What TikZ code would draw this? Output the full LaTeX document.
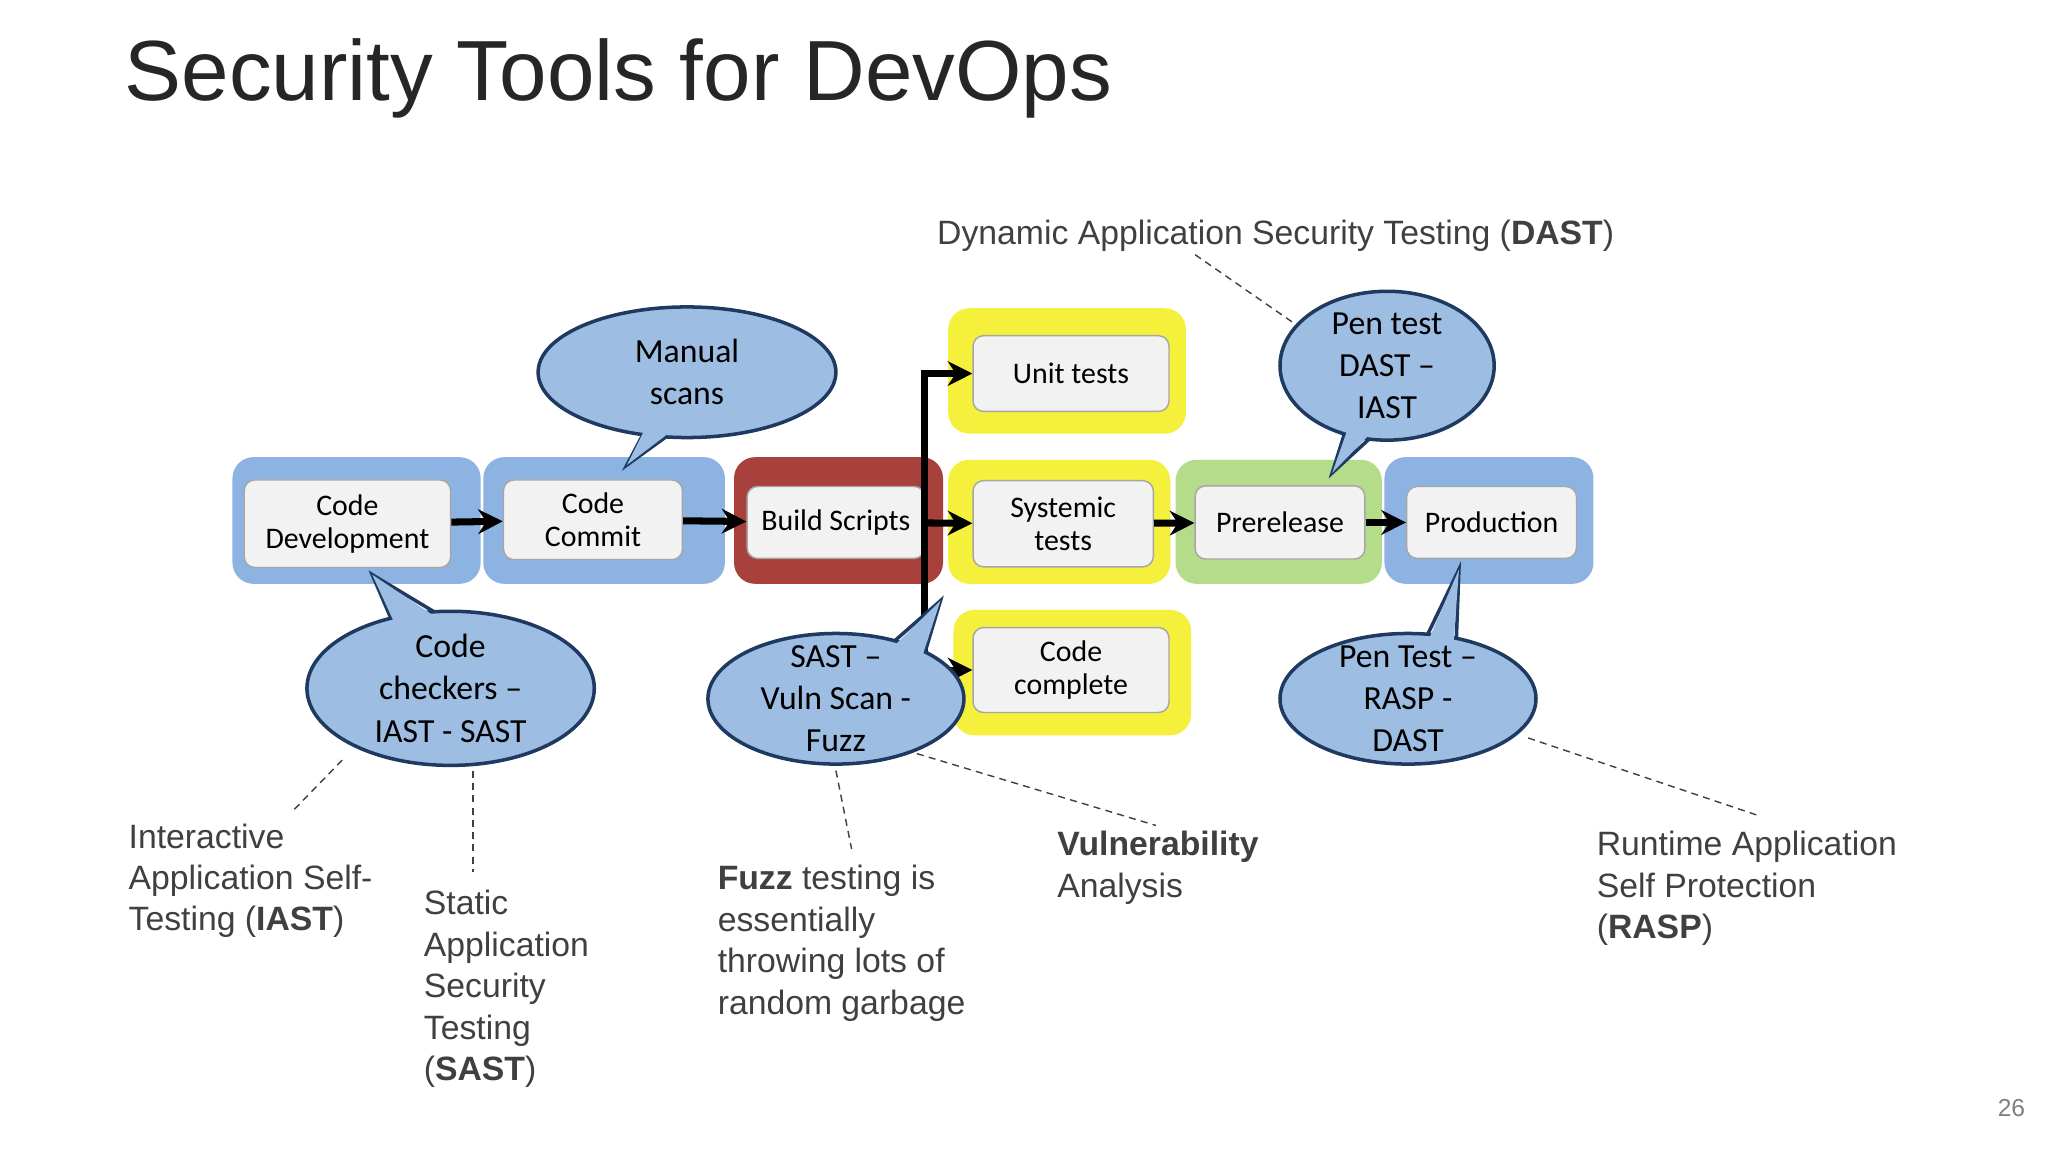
\documentclass[tikz,border=0pt]{standalone}
\usepackage{fontspec}
\setmainfont{Liberation Sans}
\newfontfamily\boxfont{Carlito}
\usetikzlibrary{shapes.geometric,calc,arrows.meta}
\definecolor{txt}{HTML}{404040}
\definecolor{stblue}{HTML}{8DB3E2}
\definecolor{stred}{HTML}{A8403C}
\definecolor{styellow}{HTML}{F4F03C}
\definecolor{stgreen}{HTML}{B4DC8A}
\definecolor{bubfill}{HTML}{9DBDE2}
\definecolor{bubline}{HTML}{1F3A60}
\tikzset{
  stage/.style={rounded corners=6pt, fill=#1},
  stepbox/.style={draw=gray!70, fill=white!95!black, rounded corners=3pt, font=\boxfont\fontsize{8.5}{9.5}\selectfont, align=center, inner sep=0pt},
  flow/.style={-{Stealth[length=7pt,width=7pt]}, line width=2pt},
  bub/.style={ellipse, draw=bubline, line width=1pt, fill=bubfill, inner sep=0pt},
  bubtxt/.style={font=\boxfont\fontsize{9.6}{12}\selectfont, align=center},
  note/.style={font=\fontsize{9.6}{11.8}\selectfont, text=txt, align=left, anchor=north west, inner sep=0pt},
  lead/.style={densely dashed, dash pattern=on 2pt off 1.5pt, thin, txt}
}
\begin{document}
\begin{tikzpicture}[x=0.01306cm, y=-0.01306cm]
\useasboundingbox (0,0) rectangle (1568,882);
\fill[white] (0,0) rectangle (1568,882);
\node[anchor=west, font=\fontsize{24.3}{28}\selectfont, text=black!85, inner sep=0pt] (title) at (95,60) {Security Tools for DevOps};

% stage backgrounds
\fill[stage=stblue] (178,350) rectangle (368,447);
\fill[stage=stblue] (370,350) rectangle (555,447);
\fill[stage=stred] (562,350) rectangle (722,447);
\fill[stage=styellow] (726,236) rectangle (908,332);
\fill[stage=styellow] (726,352) rectangle (896,447);
\fill[stage=styellow] (730,467) rectangle (912,563);
\fill[stage=stgreen] (900,352) rectangle (1058,447);
\fill[stage=stblue] (1060,350) rectangle (1220,447);

% steps
\node[stepbox, minimum width=158*0.01306cm, minimum height=67*0.01306cm] (dev) at (266,401) {Code\\Development};
\node[stepbox, minimum width=137*0.01306cm, minimum height=61*0.01306cm] (commit) at (454,398) {Code\\Commit};
\node[stepbox, minimum width=136*0.01306cm, minimum height=55*0.01306cm] (build) at (640,400) {Build Scripts};
\node[stepbox, minimum width=150*0.01306cm, minimum height=58*0.01306cm] (unit) at (820,286) {Unit tests};
\node[stepbox, minimum width=138*0.01306cm, minimum height=66*0.01306cm] (sys) at (814,401) {Systemic\\tests};
\node[stepbox, minimum width=150*0.01306cm, minimum height=65*0.01306cm] (complete) at (820,513) {Code\\complete};
\node[stepbox, minimum width=130*0.01306cm, minimum height=56*0.01306cm] (pre) at (980,400) {Prerelease};
\node[stepbox, minimum width=130*0.01306cm, minimum height=55*0.01306cm] (prod) at (1142,400) {Production};

\coordinate (split) at (708,400);
\draw[flow] (dev) -- (commit);
\draw[flow] (commit) -- (build);
\draw[flow] (build) -- (sys);
\draw[flow] (sys) -- (pre);
\draw[flow] (pre) -- (prod);
\draw[flow] (split) |- (unit.west);
\draw[flow] (split) |- (complete.west);

% callouts
\coordinate (manTip) at (480,356);
\coordinate (chkTip) at (285,440);
\coordinate (sastTip) at (720,460);
\coordinate (penTip) at (1020,362);
\coordinate (raspTip) at (1117,436);
\draw[bubline, line width=1pt] (500,318) -- (manTip) -- (530,320);
\node[bub, minimum width=228*0.01306cm, minimum height=100*0.01306cm] (man) at (526,285) {};
\fill[bubfill] (500,316) -- (manTip) -- (530,318) -- cycle;
\draw[bubline, line width=1pt] (300,475) -- (chkTip) -- (335,470);
\node[bub, minimum width=220*0.01306cm, minimum height=118*0.01306cm] (chk) at (345,527) {};
\fill[bubfill] (302,477) -- (chkTip) -- (333,472) -- cycle;
\draw[bubline, line width=1pt] (680,495) -- (sastTip) -- (705,510);
\node[bub, minimum width=196*0.01306cm, minimum height=100*0.01306cm] (sast) at (640,535) {};
\fill[bubfill] (682,497) -- (sastTip) -- (703,512) -- cycle;
\draw[bubline, line width=1pt] (1030,330) -- (penTip) -- (1055,330);
\node[bub, minimum width=164*0.01306cm, minimum height=114*0.01306cm] (pen) at (1062,280) {};
\fill[bubfill] (1032,328) -- (penTip) -- (1053,328) -- cycle;
\draw[bubline, line width=1pt] (1090,492) -- (raspTip) -- (1115,490);
\node[bub, minimum width=196*0.01306cm, minimum height=100*0.01306cm] (rasp) at (1078,535) {};
\fill[bubfill] (1092,494) -- (raspTip) -- (1113,492) -- cycle;
\node[bubtxt] (manT) at (man.center) {Manual\\scans};
\node[bubtxt] (chkT) at (chk.center) {Code\\checkers \textendash\\IAST - SAST};
\node[bubtxt] (sastT) at (sast.center) {SAST \textendash\\Vuln Scan -\\Fuzz};
\node[bubtxt] (penT) at (pen.center) {Pen test\\DAST \textendash\\IAST};
\node[bubtxt] (raspT) at (rasp.center) {Pen Test \textendash\\RASP -\\DAST};

% notes
\node[note] (dastN) at (717,168) {Dynamic Application Security Testing (\textbf{DAST})};
\node[note] (iastN) at (98,630) {Interactive\\Application Self-\\Testing (\textbf{IAST})};
\node[note] (sastN) at (324,681) {Static\\Application\\Security\\Testing\\(\textbf{SAST})};
\node[note] (fuzzN) at (549,662) {\textbf{Fuzz} testing is\\essentially\\throwing lots of\\random garbage};
\node[note] (vulnN) at (809,636) {\textbf{Vulnerability}\\Analysis};
\node[note] (raspN) at (1222,636) {Runtime Application\\Self Protection\\(\textbf{RASP})};
\node[font=\fontsize{7}{8}\selectfont, text=gray] (page) at (1540,848) {26};

\coordinate (d1) at (915,195); \coordinate (d2) at (990,247);
\coordinate (i1) at (262,582); \coordinate (i2) at (225,620);
\coordinate (s1) at (362,590); \coordinate (s2) at (362,668);
\coordinate (f1) at (640,590); \coordinate (f2) at (652,650);
\coordinate (v1) at (702,577); \coordinate (v2) at (885,632);
\coordinate (r1) at (1170,565); \coordinate (r2) at (1348,625);
\draw[lead] (d1) -- (d2);
\draw[lead] (i1) -- (i2);
\draw[lead] (s1) -- (s2);
\draw[lead] (f1) -- (f2);
\draw[lead] (v1) -- (v2);
\draw[lead] (r1) -- (r2);
\end{tikzpicture}
\end{document}
